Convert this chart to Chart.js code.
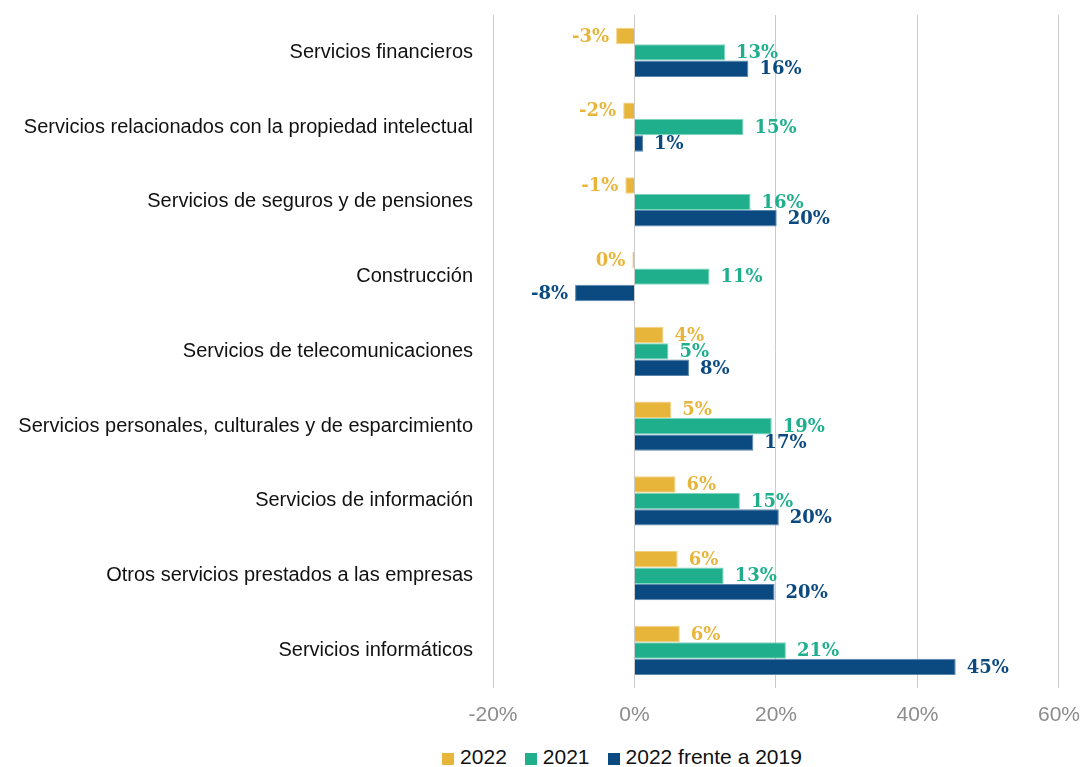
<!DOCTYPE html>
<html>
<head>
<meta charset="utf-8">
<script src="https://cdn.jsdelivr.net/npm/chart.js@4"></script>
<style>
  html, body { margin: 0; padding: 0; background: #fff; overflow: hidden; }
  #wrap { width: 1084px; height: 767px; position: relative; overflow: hidden; }
  #lienzo { position: absolute; left: 0; top: -17px; width: 1095px; height: 760px; }
  #leyenda {
    position: absolute; left: 0; width: 1244px; top: 745px;
    display: flex; justify-content: center;
    font: 21px 'Liberation Sans', Arial, sans-serif; color: #111;
  }
  #leyenda span.item { display: flex; align-items: center; margin: 0 9px; }
  #leyenda i { display: inline-block; width: 12px; height: 12px; margin-right: 6px; margin-top: 3px; }
</style>
</head>
<body>
<div id="wrap"><div id="lienzo"><canvas id="chart"></canvas></div><div id="leyenda"></div></div>
<script>
const categorias = [
  "Servicios financieros",
  "Servicios relacionados con la propiedad intelectual",
  "Servicios de seguros y de pensiones",
  "Construcción",
  "Servicios de telecomunicaciones",
  "Servicios personales, culturales y de esparcimiento",
  "Servicios de información",
  "Otros servicios prestados a las empresas",
  "Servicios informáticos"
];
const serie2022 = [-2.6, -1.6, -1.3, -0.3, 4.1, 5.2, 5.8, 6.1, 6.4];
const serie2021 = [12.8, 15.4, 16.4, 10.6, 4.8, 19.4, 14.9, 12.6, 21.4];
const serie2022vs2019 = [16.1, 1.2, 20.1, -8.4, 7.7, 16.8, 20.4, 19.8, 45.4];
const nombres = ["2022", "2021", "2022 frente a 2019"];
const colores = ["#E8B53B", "#1FAF8D", "#0B4A80"];
const bordes = ["#F3D27F", "#7FD6C0", "#5D86AD"];

const ctx = document.getElementById("chart").getContext("2d");

// leyenda en html
const leyenda = document.getElementById("leyenda");
nombres.forEach((n, i) => {
  const item = document.createElement("span");
  item.className = "item";
  item.innerHTML = '<i style="background:' + colores[i] + '"></i>' + n;
  leyenda.appendChild(item);
});

// etiquetas de valor junto a cada barra
const etiquetas = {
  id: "etiquetas",
  afterDatasetsDraw(chart) {
    const c = chart.ctx;
    c.save();
    c.font = "bold 18px 'DejaVu Serif'";
    c.textBaseline = "middle";
    chart.data.datasets.forEach((ds, i) => {
      const meta = chart.getDatasetMeta(i);
      meta.data.forEach((bar, j) => {
        const v = ds.data[j];
        const txt = Math.round(v) + "%";
        c.fillStyle = colores[i];
        if (v >= 0) {
          c.textAlign = "left";
          c.fillText(txt, bar.x + 11, bar.y + 1);
        } else {
          c.textAlign = "right";
          c.fillText(txt, bar.x - 7, bar.y + 1);
        }
      });
    });
    c.restore();
  }
};

const data = {
  labels: categorias,
  datasets: [
    { label: nombres[0], data: serie2022, backgroundColor: colores[0], borderColor: bordes[0], borderWidth: 1 },
    { label: nombres[1], data: serie2021, backgroundColor: colores[1], borderColor: bordes[1], borderWidth: 1 },
    { label: nombres[2], data: serie2022vs2019, backgroundColor: colores[2], borderColor: bordes[2], borderWidth: 1 }
  ]
};

const config = {
  type: "bar",
  data: data,
  plugins: [etiquetas],
  options: {
    indexAxis: "y",
    responsive: true,
    maintainAspectRatio: false,
    animation: false,
    categoryPercentage: 0.66,
    barPercentage: 1,
    layout: { padding: 0 },
    plugins: {
      legend: { display: false },
      tooltip: { enabled: false }
    },
    scales: {
      x: {
        min: -20,
        max: 60,
        ticks: {
          stepSize: 20,
          padding: 15,
          color: "#8c8c8c",
          font: { family: "'Liberation Sans', Arial", size: 21 },
          callback: (v) => v + "%"
        },
        grid: { color: "#cbcbcb", lineWidth: 1, drawTicks: false },
        border: { display: false }
      },
      y: {
        ticks: {
          padding: 20,
          color: "#111",
          font: { family: "'Liberation Sans', Arial", size: 20 }
        },
        grid: { display: false, drawTicks: false },
        border: { display: false },
        afterFit: (scale) => { scale.width = 493; }
      }
    }
  }
};

const chart = new Chart(ctx, config);
</script>
</body>
</html>
